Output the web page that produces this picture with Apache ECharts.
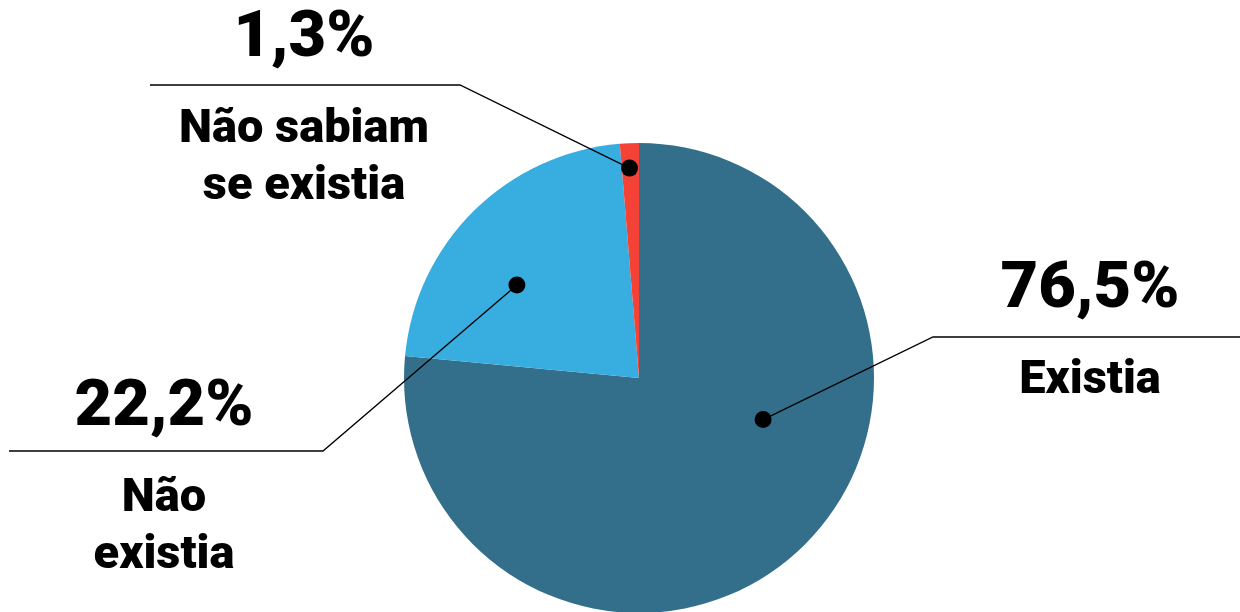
<!DOCTYPE html>
<html><head><meta charset="utf-8">
<script src="https://cdn.jsdelivr.net/npm/echarts@6/dist/echarts.min.js"></script>
<style>html,body{margin:0;padding:0;background:#fff}#c{width:1240px;height:612px}</style>
</head><body><div id="c"></div>
<script>
// ---- data ----
const categories = ['Existia', 'Não existia', 'Não sabiam se existia'];
const nameLines = [['Existia'], ['Não', 'existia'], ['Não sabiam', 'se existia']];
const values = [76.5, 22.2, 1.3];
const valueLabels = ['76,5%', '22,2%', '1,3%'];

// ---- style / layout ----
const colors = ['#336f8a', '#38addf', '#f44336'];
const CX = 639, CY = 378, R = 235;
const dotSpots = [{t: 0.394, r: 0.557}, {t: 0.399, r: 0.653}, {t: 0.447, r: 0.894}];
const labelSpots = [
  {x: 1090, y: 228, elbow: [933, 337], end: [1240, 337]},
  {x: 164, y: 346, elbow: [323, 451], end: [9, 451]},
  {x: 304, y: -23, elbow: [460, 85], end: [150, 85]}
];

const total = values.reduce((a, b) => a + b, 0);
let cum = 0;
const dotPolar = values.map((v, i) => {
  const ang = (cum + dotSpots[i].t * v) / total * 360;
  cum += v;
  return [dotSpots[i].r, ang];
});
const dotPixel = dotPolar.map(([r, a]) => {
  const rad = a * Math.PI / 180;
  return [CX + r * R * Math.sin(rad), CY - r * R * Math.cos(rad)];
});

const chart = echarts.init(document.getElementById('c'), null, {renderer: 'canvas'});
const font = 'Roboto, "Liberation Sans", sans-serif';
const pieData = categories.map((c, i) => ({name: c, value: values[i], itemStyle: {color: colors[i]}}));
chart.setOption({
  animation: false,
  backgroundColor: '#ffffff',
  polar: {center: [CX, CY], radius: R},
  angleAxis: {type: 'value', min: 0, max: 360, startAngle: 90, clockwise: true, show: false},
  radiusAxis: {type: 'value', min: 0, max: 1, show: false},
  series: [
    {
      type: 'pie',
      z: 1,
      center: [CX, CY],
      radius: R,
      startAngle: 90,
      clockwise: true,
      silent: true,
      data: pieData,
      label: {show: false},
      labelLine: {show: false}
    },
    {
      type: 'pie',
      z: 3,
      center: [CX, CY],
      radius: R,
      startAngle: 90,
      clockwise: true,
      avoidLabelOverlap: false,
      silent: true,
      data: categories.map((c, i) => ({name: c, value: values[i]})),
      itemStyle: {color: 'rgba(0,0,0,0)'},
      label: {
        show: true,
        position: 'outside',
        formatter: p => `{v|${valueLabels[p.dataIndex]}}\n` + nameLines[p.dataIndex].map(s => `{n|${s}}`).join('\n'),
        rich: {
          v: {fontSize: 65, fontWeight: 900, lineHeight: 125, fontFamily: font, color: '#000', align: 'center'},
          n: {fontSize: 47, fontWeight: 900, lineHeight: 57, fontFamily: font, color: '#000', align: 'center'}
        }
      },
      labelLine: {show: true, smooth: false, lineStyle: {color: '#000', width: 1.3}},
      labelLayout: p => {
        const s = labelSpots[p.dataIndex];
        return {
          x: s.x, y: s.y, align: 'center', verticalAlign: 'top',
          labelLinePoints: [dotPixel[p.dataIndex], s.elbow, s.end]
        };
      }
    },
    {
      type: 'scatter',
      coordinateSystem: 'polar',
      z: 5,
      silent: true,
      symbolSize: 17,
      itemStyle: {color: '#000', opacity: 1},
      data: dotPolar
    }
  ]
});
</script>
</body></html>
